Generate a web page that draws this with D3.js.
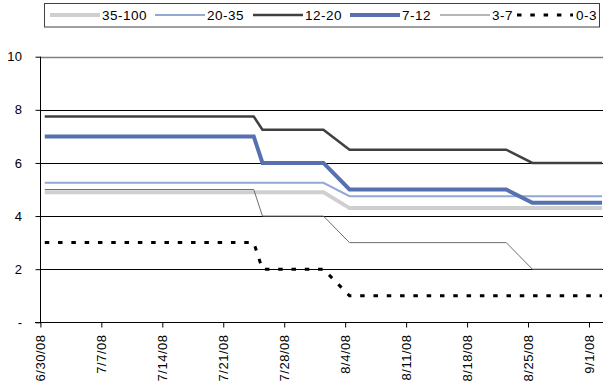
<!DOCTYPE html>
<html>
<head>
<meta charset="utf-8">
<script src="https://cdn.jsdelivr.net/npm/d3@7"></script>
<style>
  html, body { margin: 0; padding: 0; background: #fff; }
  svg { display: block; font-family: "Liberation Sans", Arial, sans-serif; }
</style>
</head>
<body>
<svg id="chart" width="603" height="387"></svg>
<script>
// Observation dates where the rate bands change (business days)
const dates = ["6/30/08", "7/24/08", "7/25/08", "8/1/08", "8/4/08", "8/22/08", "8/25/08", "9/2/08"];

// Band names, in drawing order
const bands = ["35-100", "20-35", "12-20", "7-12", "3-7", "0-3"];

// Values per band at each date above
const band35to100 = [4.9, 4.9, 4.9, 4.9, 4.3, 4.3, 4.3, 4.3];
const band20to35  = [5.25, 5.25, 5.25, 5.25, 4.75, 4.75, 4.75, 4.75];
const band12to20  = [7.75, 7.75, 7.25, 7.25, 6.5, 6.5, 6.0, 6.0];
const band7to12   = [7, 7, 6, 6, 5, 5, 4.5, 4.5];
const band3to7    = [5, 5, 4, 4, 3, 3, 2, 2];
const band0to3    = [3, 3, 2, 2, 1, 1, 1, 1];

// Axis tick labels
const xTickLabels = ["6/30/08", "7/7/08", "7/14/08", "7/21/08", "7/28/08", "8/4/08", "8/11/08", "8/18/08", "8/25/08", "9/1/08"];
const yTicks = [0, 2, 4, 6, 8, 10];

const seriesValues = [band35to100, band20to35, band12to20, band7to12, band3to7, band0to3];
const styles = [
  { color: "#cfcfcf", width: 4 },
  { color: "#94a8d4", width: 2 },
  { color: "#404040", width: 2.5 },
  { color: "#5670b0", width: 4 },
  { color: "#6e6e6e", width: 1 },
  { color: "#000000", width: 3, dash: "4.5 8.8" }
];

const parse = d3.timeParse("%m/%d/%y");
const svg = d3.select("#chart");

// Date axis: each day occupies a slot, points sit in the middle of their day
const x = d3.scaleTime()
  .domain([parse("6/30/08"), parse("9/3/08")])
  .range([40.4, 606.4]);
const y = d3.scaleLinear().domain([0, 10]).range([322.3, 56.7]);
const mid = d => d3.timeHour.offset(parse(d), 12);

const plotRight = 606.4;

// Horizontal gridlines
svg.append("g")
  .selectAll("line")
  .data(yTicks.filter(v => v > 0))
  .join("line")
  .attr("x1", 40).attr("x2", plotRight)
  .attr("y1", d => Math.round(y(d)) + 0.5).attr("y2", d => Math.round(y(d)) + 0.5)
  .attr("stroke", d => d === 10 ? "#808080" : "#000")
  .attr("stroke-width", d => d === 10 ? 1.5 : 1);

// Series lines
const line = d3.line()
  .x(d => x(mid(d.date)))
  .y(d => y(d.value));

svg.append("g")
  .selectAll("path")
  .data(seriesValues.map((vals, i) => ({ i, pts: vals.map((v, j) => ({ date: dates[j], value: v })) })))
  .join("path")
  .attr("d", d => line(d.pts))
  .attr("fill", "none")
  .attr("stroke", d => styles[d.i].color)
  .attr("stroke-width", d => styles[d.i].width)
  .attr("stroke-dasharray", d => styles[d.i].dash || null)
  .attr("stroke-linejoin", "miter");

// Y axis
const yAxis = d3.axisLeft(y)
  .tickValues(yTicks)
  .tickSize(5)
  .tickPadding(13)
  .tickFormat(d => d === 0 ? "-" : d3.format("d")(d));
const gy = svg.append("g")
  .attr("transform", "translate(40.5,0)")
  .call(yAxis);
gy.select(".domain").attr("stroke", "#000").attr("d", `M0,${y(10)}V${y(0) + 1}`);
gy.selectAll(".tick line").attr("stroke", "#000");
gy.selectAll(".tick text")
  .attr("fill", "#000")
  .style("font-size", "13px")
  .style("letter-spacing", "0.4px")
  .style("font-family", "'Liberation Sans', Arial, sans-serif");

// X axis
const xAxis = d3.axisBottom(x)
  .tickValues(xTickLabels.map(parse))
  .tickSize(5)
  .tickFormat((d, i) => xTickLabels[i]);
const gx = svg.append("g")
  .attr("transform", `translate(0,${Math.round(y(0)) + 0.5})`)
  .call(xAxis);
gx.select(".domain").attr("stroke", "#000").attr("d", `M35,0H${plotRight}`);
gx.selectAll(".tick line").attr("stroke", "#000");
gx.selectAll(".tick text")
  .attr("fill", "#000")
  .attr("text-anchor", "end")
  .attr("transform", "translate(4.5,12) rotate(-90)")
  .attr("x", 0).attr("y", 0).attr("dy", null)
  .style("font-size", "13px")
  .style("letter-spacing", "0.5px")
  .style("font-family", "'Liberation Sans', Arial, sans-serif");

// Legend
const legend = svg.append("g");
legend.append("rect")
  .attr("x", 44.5).attr("y", 3.5)
  .attr("width", 555).attr("height", 23.5)
  .attr("fill", "#fff").attr("stroke", "#404040").attr("stroke-width", 1);

const legendX = [50, 155, 253, 350, 440, 517];
const items = legend.selectAll("g.item")
  .data(bands)
  .join("g")
  .attr("class", "item")
  .attr("transform", (d, i) => `translate(${legendX[i]},15)`);
items.append("line")
  .attr("x1", 0).attr("x2", (d, i) => i === 5 ? 56 : 50)
  .attr("y1", 0).attr("y2", 0)
  .attr("stroke", (d, i) => styles[i].color)
  .attr("stroke-width", (d, i) => styles[i].width)
  .attr("stroke-dasharray", (d, i) => styles[i].dash || null);
items.append("text")
  .attr("x", (d, i) => i === 5 ? 59 : 52)
  .attr("y", 0)
  .attr("dy", "0.36em")
  .style("font-size", "13.5px")
  .style("letter-spacing", "0.5px")
  .attr("fill", "#000")
  .text(d => d);
</script>
</body>
</html>
